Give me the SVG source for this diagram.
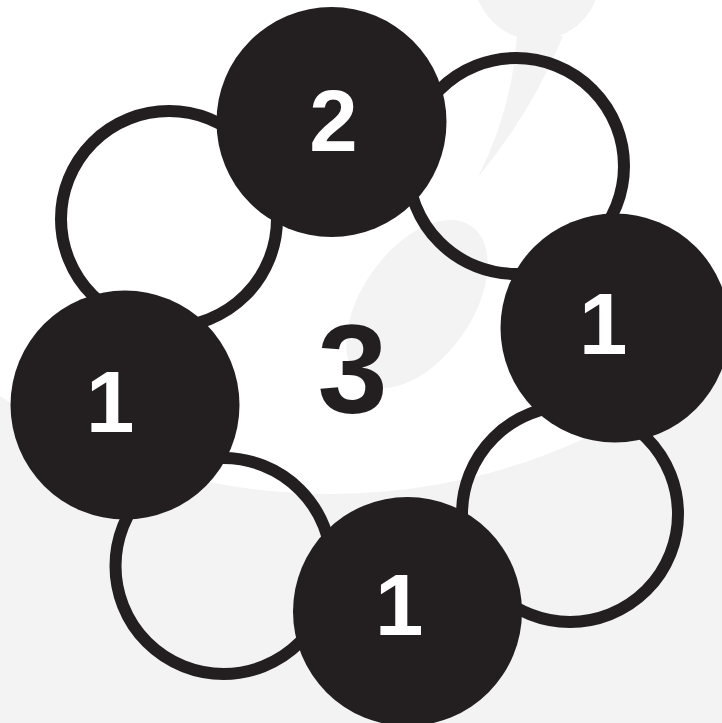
<svg xmlns="http://www.w3.org/2000/svg" width="722" height="723" viewBox="0 0 722 723">
<style>
.bg{fill:#f3f3f3}
.deco{fill:#f3f3f3}
.ring{fill:none;stroke:#231f20;stroke-width:12}
.disc{fill:#231f20}
.num{font-family:"Liberation Sans",Arial,Helvetica,sans-serif;font-weight:bold;fill:#ffffff;font-size:87px}
.center{font-family:"Liberation Sans",Arial,Helvetica,sans-serif;font-weight:bold;fill:#231f20;font-size:126px}
</style>
<rect class="bg" x="0" y="0" width="722" height="723"/>
<ellipse cx="330" cy="0" rx="552" ry="494" fill="#ffffff"/>
<g id="decor">
<circle class="deco" cx="537" cy="-23" r="63"/>
<path class="deco" d="M517,36 Q512,110 478,177 Q532,112 563,36 Z"/>
<ellipse class="deco" cx="417" cy="304" rx="55" ry="95" transform="rotate(35 417 304)"/>
</g>
<g id="rings">
<circle id="ring-tl" class="ring" cx="169" cy="219" r="108"/>
<circle id="ring-tr" class="ring" cx="516" cy="166" r="108"/>
<circle id="ring-br" class="ring" cx="570" cy="514" r="108"/>
<circle id="ring-bl" class="ring" cx="223.5" cy="566" r="108"/>
</g>
<g id="node-top">
<circle class="disc" cx="331.5" cy="122" r="115"/>
<text class="num" x="333.5" y="151" text-anchor="middle">2</text>
</g>
<g id="node-left">
<circle class="disc" cx="125" cy="405" r="114.5"/>
<text class="num" x="86" y="432">1</text>
</g>
<g id="node-right">
<circle class="disc" cx="615" cy="328" r="114.5"/>
<text class="num" x="579" y="354">1</text>
</g>
<g id="node-bottom">
<circle class="disc" cx="407.5" cy="611.5" r="114.5"/>
<text class="num" x="375" y="635">1</text>
</g>
<g id="label-center">
<text class="center" x="352.5" y="413" text-anchor="middle">3</text>
</g>
</svg>
